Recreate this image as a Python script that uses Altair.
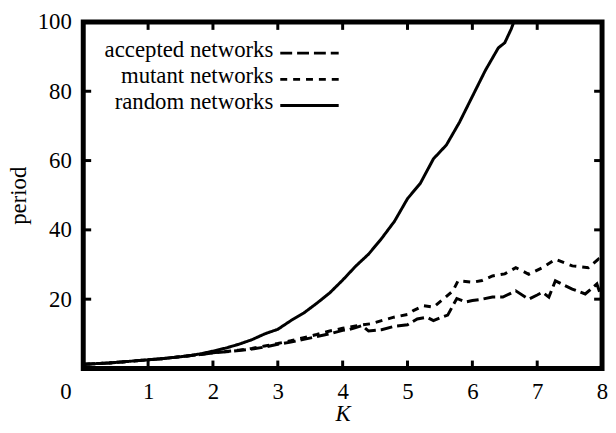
import altair as alt
import pandas as pd

# ---- data ----
k_random = [0.0, 0.2, 0.4, 0.6, 0.8, 1.0, 1.2, 1.4, 1.6, 1.8, 2.0, 2.2, 2.4, 2.6, 2.8,
            3.0, 3.2, 3.4, 3.6, 3.8, 4.0, 4.2, 4.4, 4.6, 4.8, 5.0, 5.2, 5.4, 5.6, 5.8,
            6.0, 6.2, 6.4, 6.5, 6.6, 6.7]
p_random = [1.2, 1.4, 1.6, 1.9, 2.2, 2.5, 2.8, 3.2, 3.6, 4.2, 5.0, 5.9, 7.0, 8.3, 10.0,
            11.3, 13.8, 16.0, 18.8, 21.8, 25.5, 29.5, 33.0, 37.5, 42.5, 49.0, 53.5, 60.5, 64.5, 71.0,
            78.5, 86.0, 92.5, 94.0, 98.0, 103.0]

k_accepted = [0.0, 0.2, 0.4, 0.6, 0.8, 1.0, 1.2, 1.4, 1.6, 1.8, 2.0, 2.2, 2.4, 2.6, 2.8,
              3.0, 3.2, 3.4, 3.6, 3.8, 4.0, 4.1, 4.2, 4.3, 4.4, 4.6, 4.8, 5.0, 5.15, 5.3,
              5.4, 5.5, 5.62, 5.76, 5.9, 6.0, 6.15, 6.31, 6.47, 6.67, 6.87, 7.0, 7.08, 7.18,
              7.28, 7.54, 7.74, 7.92, 8.0]
p_accepted = [1.2, 1.4, 1.6, 1.9, 2.2, 2.5, 2.8, 3.2, 3.6, 4.0, 4.5, 4.8, 5.2, 5.6, 6.2,
              7.0, 7.6, 8.4, 9.2, 10.0, 11.0, 11.2, 11.8, 12.4, 10.8, 11.2, 12.2, 12.6, 14.3, 14.8,
              13.8, 14.6, 15.4, 20.2, 19.2, 19.6, 20.0, 20.6, 20.6, 22.4, 20.0, 21.2, 22.0, 20.6,
              25.3, 22.9, 21.5, 24.4, 20.0]

k_mutant = [0.0, 0.2, 0.4, 0.6, 0.8, 1.0, 1.2, 1.4, 1.6, 1.8, 2.0, 2.2, 2.4, 2.6, 2.8,
            3.0, 3.2, 3.4, 3.6, 3.8, 4.0, 4.2, 4.43, 4.6, 4.79, 5.0, 5.09, 5.25, 5.4, 5.55,
            5.7, 5.78, 6.01, 6.15, 6.31, 6.5, 6.67, 6.87, 7.08, 7.28, 7.54, 7.79, 7.94, 8.0]
p_mutant = [1.2, 1.4, 1.6, 1.9, 2.2, 2.5, 2.8, 3.2, 3.6, 4.0, 4.5, 4.9, 5.3, 5.8, 6.5,
            7.2, 8.0, 8.9, 9.8, 10.8, 11.6, 12.3, 12.9, 13.8, 14.8, 15.6, 16.7, 18.1, 17.7, 20.0,
            22.4, 25.3, 24.9, 25.4, 26.7, 27.3, 29.1, 27.2, 29.1, 31.5, 29.6, 29.1, 31.5, 29.6]

series_names = ["accepted networks", "mutant networks", "random networks"]
series_dash = [[12, 5], [7, 6], [1, 0]]

x_ticks = [0, 1, 2, 3, 4, 5, 6, 7, 8]
y_ticks = [20, 40, 60, 80, 100]
x_inner_ticks = [1, 2, 3, 4, 5, 6, 7]
y_inner_ticks = [20, 40, 60, 80]

FONT = "Liberation Serif"
FS = 23
W, H = 524, 350

rows = []
for name, ks, ps in [(series_names[0], k_accepted, p_accepted),
                     (series_names[1], k_mutant, p_mutant),
                     (series_names[2], k_random, p_random)]:
    for k, p in zip(ks, ps):
        rows.append({"series": name, "K": k, "period": p})
df = pd.DataFrame(rows)

xs = alt.Scale(domain=[0, 8], nice=False, zero=False)
ys = alt.Scale(domain=[0, 100], nice=False, zero=False)

x_axis = alt.Axis(
    values=x_ticks, title="K", titleFontStyle="italic", titleFont=FONT, titleFontSize=FS,
    titleFontWeight="normal", titlePadding=0, titleColor="black",
    labelFont=FONT, labelFontSize=FS, labelPadding=12, labelFlush=False, labelOverlap=False,
    labelColor="black",
    labelOffset={"condition": {"test": "datum.value === 0", "value": -18}, "value": 0},
    domain=False, ticks=False, grid=False)
y_axis = alt.Axis(
    values=y_ticks, title="period", titleFont=FONT, titleFontSize=FS,
    titleFontWeight="normal", titlePadding=7, titleColor="black",
    labelFont=FONT, labelFontSize=FS, labelPadding=12, labelFlush=False, labelOverlap=False,
    labelColor="black",
    domain=False, ticks=False, grid=False)

lines = alt.Chart(df).mark_line(clip=True, strokeWidth=3, color="black", strokeCap="butt").encode(
    x=alt.X("K:Q", scale=xs, axis=x_axis),
    y=alt.Y("period:Q", scale=ys, axis=y_axis),
    strokeDash=alt.StrokeDash("series:N", scale=alt.Scale(domain=series_names, range=series_dash),
                              legend=None),
    detail="series:N",
)

xt = pd.DataFrame({"K": x_inner_ticks})
yt = pd.DataFrame({"period": y_inner_ticks})
tick_style = dict(color="black", strokeWidth=3)
bottom = alt.Chart(xt).mark_rule(**tick_style).encode(
    x=alt.X("K:Q", scale=xs, axis=x_axis), y=alt.value(H), y2=alt.value(H - 8))
top = alt.Chart(xt).mark_rule(**tick_style).encode(
    x=alt.X("K:Q", scale=xs, axis=x_axis), y=alt.value(0), y2=alt.value(8))
left = alt.Chart(yt).mark_rule(**tick_style).encode(
    y=alt.Y("period:Q", scale=ys, axis=y_axis), x=alt.value(0), x2=alt.value(8))
right = alt.Chart(yt).mark_rule(**tick_style).encode(
    y=alt.Y("period:Q", scale=ys, axis=y_axis), x=alt.value(W), x2=alt.value(W - 8))

legend_layers = []
for i, (name, dash) in enumerate(zip(series_names, series_dash)):
    one = pd.DataFrame({"label": [name]})
    legend_layers.append(alt.Chart(one).mark_text(
        font=FONT, fontSize=FS, align="right", baseline="alphabetic", color="black").encode(
        text="label:N", x=alt.value(192), y=alt.value(35 + 26.5 * i)))
    legend_layers.append(alt.Chart(one).mark_rule(
        color="black", strokeWidth=3, strokeDash=dash, strokeCap="butt").encode(
        x=alt.value(199), x2=alt.value(258), y=alt.value(31.5 + 26.5 * i)))

chart = alt.layer(lines, bottom, top, left, right, *legend_layers).properties(
    width=W, height=H,
    autosize=alt.AutoSizeParams(type="none"),
    padding={"left": 76, "top": 12, "right": 6, "bottom": 55},
    background="white",
).configure_view(stroke="black", strokeWidth=5)

chart.save("out.html", embed_options={"renderer": "svg", "actions": False})
